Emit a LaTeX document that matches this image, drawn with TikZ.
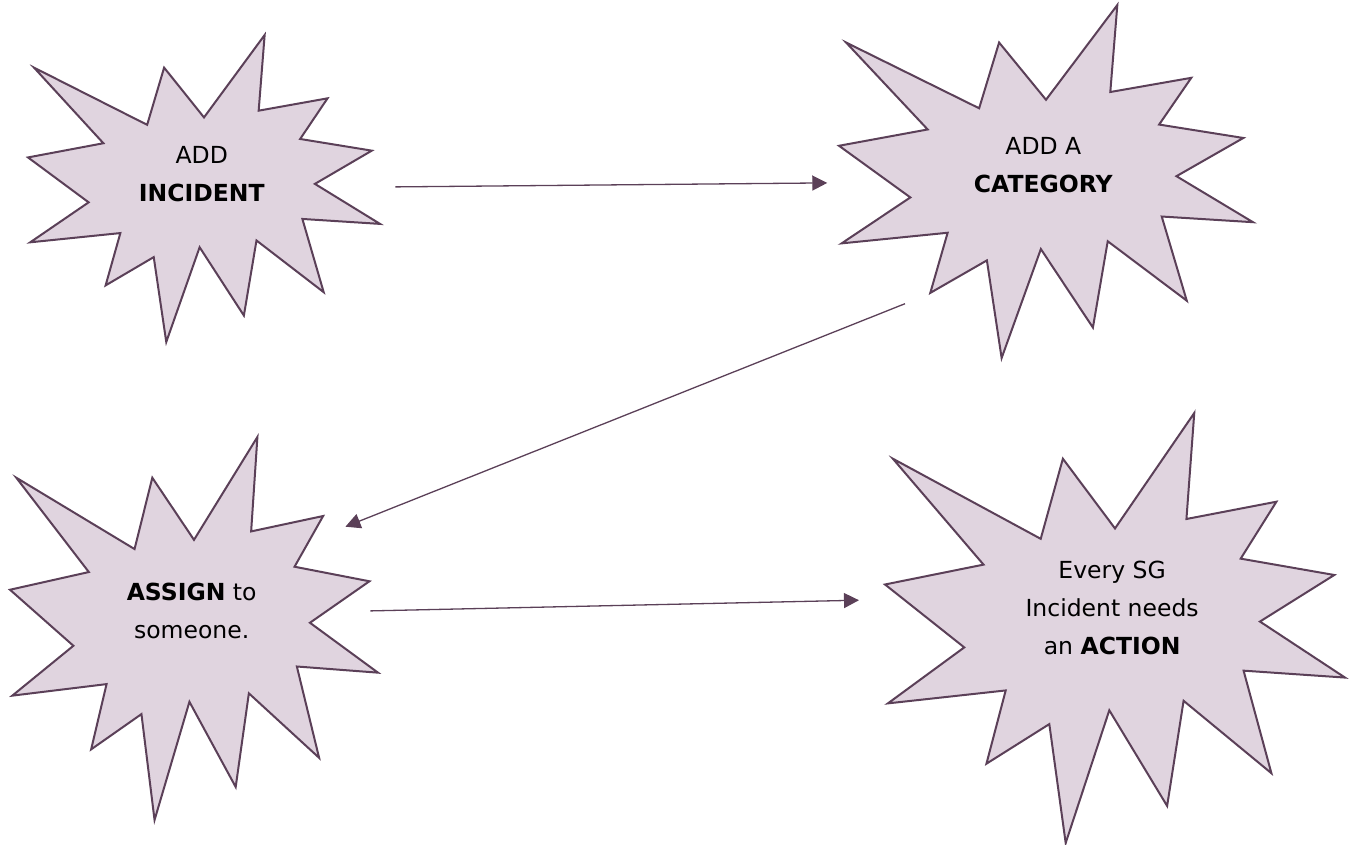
\documentclass[tikz,border=0pt]{standalone}
\usepackage{fontspec}
\setmainfont{DejaVu Sans}
\usetikzlibrary{arrows.meta,calc}
\definecolor{burstfill}{HTML}{E0D4DF}
\definecolor{burstink}{HTML}{5B4058}
% Explosion outline on a 100 x 100 box, y pointing down
\newcommand{\BurstPath}{(50,26.85) -- (67.23,0) -- (65.53,24.65) -- (85.09,20.63) -- (77.32,33.87) -- (97.67,37.67) -- (81.51,48.50) -- (100,61.53) -- (77.95,59.92) -- (84.00,83.77) -- (64.91,66.93) -- (61.33,91.38) -- (48.76,69.14) -- (39.28,100) -- (35.72,72.35) -- (22.05,81.56) -- (26.24,64.52) -- (0.63,67.53) -- (17.23,54.51) -- (0,39.88) -- (21.42,35.26) -- (1.71,10.63) -- (33.85,29.26) -- (38.67,10.63) -- cycle}

\begin{document}
\begin{tikzpicture}[x=1pt, y=-1pt,
    font=\fontsize{23.5}{38}\selectfont,
    bbox/.style={rectangle, inner sep=0pt, anchor=north west},
    burst/.style={draw=burstink, line width=2pt, fill=burstfill, line join=miter},
    words/.style={align=center, text=black, inner sep=0pt},
    flow/.style={-{Triangle[length=15pt, width=15pt]}, line width=1.3pt, draw=burstink},
  ]
\useasboundingbox (0,0) rectangle (1352,845);

% Each explosion: name, left, top, width, height, and its words.
\foreach \n/\bx/\by/\bw/\bh/\txt in {
    inc/28/35/352/307/{ADD\\\textbf{INCIDENT}},
    cat/839/5/414/353/{ADD A\\\textbf{CATEGORY}},
    asg/10/437/368/383/{\textbf{ASSIGN} to\\someone.},
    act/885/413/460/430/{Every SG\\Incident needs\\an \textbf{ACTION}}} {
  \node[bbox, minimum width=\bw pt, minimum height=\bh pt] (\n) at (\bx,\by) {};
  \pgfmathsetmacro{\sx}{\bw/100}
  \pgfmathsetmacro{\sy}{\bh/100}
  \begin{scope}[shift={(\n.north west)}, x=\sx pt, y=-\sy pt]
    \draw[burst] \BurstPath;
    \node[words] (\n-txt) at (49.37,45.4) {\txt};
  \end{scope}
}

\draw[flow] ($(inc.east)+(15,-1.8)$) -- ($(cat.west)+(-11.7,1.2)$);
\draw[flow] ($(cat.south west)+(66,-54.7)$) -- ($(asg.north east)+(-33,89.7)$);
\draw[flow] ($(asg.east)+(-8,-17.8)$) -- ($(act.west)+(-26,-28)$);

\end{tikzpicture}
\end{document}
